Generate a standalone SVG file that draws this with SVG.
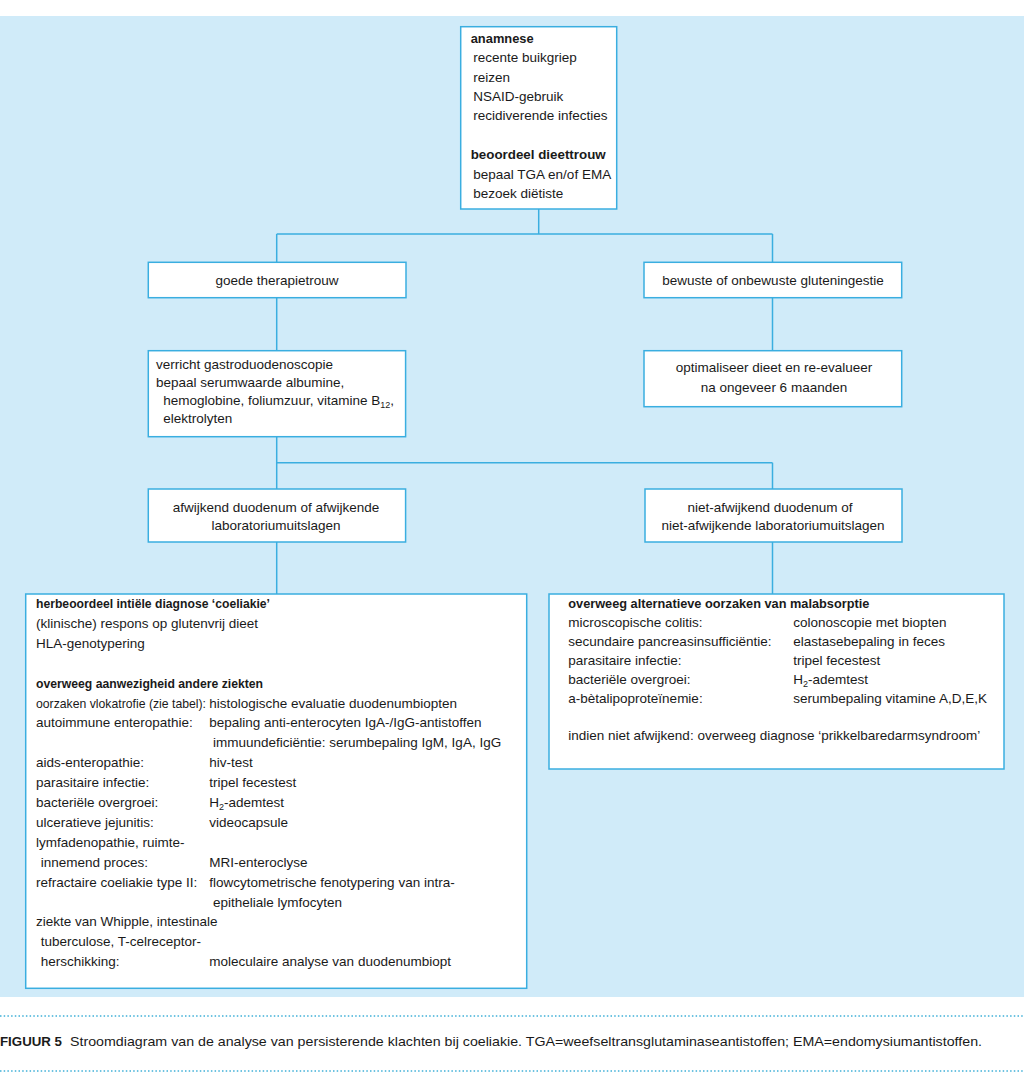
<svg xmlns="http://www.w3.org/2000/svg" width="1024" height="1077" viewBox="0 0 1024 1077">
<style>
.bg{fill:#d0ebf9}
.box{fill:#ffffff;stroke:#3aaee0;stroke-width:1.5}
.con{stroke:#3aaee0;stroke-width:1.5;fill:none}
text{font-family:"Liberation Sans",Arial,sans-serif;font-size:13.5px;fill:#1a1a1a}
.b{font-weight:bold}
.c{text-anchor:middle}
.dot{stroke:#3fb0d8;stroke-width:1.5;stroke-dasharray:1.5 2.2;fill:none}
.sub{font-size:9px}
</style>
<rect class="bg" x="0" y="16" width="1024" height="981"/>

<g id="connectors">
<path class="con" d="M538.7 209V234M276.7 234H772.5M276.7 234V262.3M772.5 234V262.3M276.7 297.7V350.7M772.5 297.7V350.7M276.7 436.7V462.7M276.7 462.7H772.5M276.7 462.7V489M772.5 462.7V489M276.7 542V594M772.5 542V594"/>
</g>

<g id="anamnese">
<rect class="box" x="460.7" y="26.7" width="156" height="182.3"/>
<text class="b" x="470.7" y="42.7" textLength="63" lengthAdjust="spacingAndGlyphs">anamnese</text>
<text x="473.3" y="62.2">recente buikgriep</text>
<text x="473.3" y="81.6">reizen</text>
<text x="473.3" y="101">NSAID-gebruik</text>
<text x="473.3" y="120.4">recidiverende infecties</text>
<text class="b" x="470.7" y="159.4" textLength="135" lengthAdjust="spacingAndGlyphs">beoordeel dieettrouw</text>
<text x="473.3" y="178.8">bepaal TGA en/of EMA</text>
<text x="473.3" y="198.2">bezoek diëtiste</text>
</g>

<g id="goede">
<rect class="box" x="148.3" y="262.3" width="257.7" height="35.4"/>
<text class="c" x="277" y="284.5">goede therapietrouw</text>
</g>

<g id="gluten">
<rect class="box" x="644" y="262.3" width="257.7" height="35.4"/>
<text class="c" x="773" y="284.5">bewuste of onbewuste gluteningestie</text>
</g>

<g id="gastro">
<rect class="box" x="148.3" y="350.7" width="257.3" height="86"/>
<text x="156" y="369.3">verricht gastroduodenoscopie</text>
<text x="156" y="387.3">bepaal serumwaarde albumine,</text>
<text x="163.3" y="405">hemoglobine, foliumzuur, vitamine B<tspan class="sub" dy="3">12</tspan><tspan dy="-3">,</tspan></text>
<text x="163.3" y="422.7">elektrolyten</text>
</g>

<g id="optimaliseer">
<rect class="box" x="644" y="350.7" width="257.7" height="56"/>
<text class="c" x="774" y="372">optimaliseer dieet en re-evalueer</text>
<text class="c" x="774" y="391.7">na ongeveer 6 maanden</text>
</g>

<g id="afwijkend">
<rect class="box" x="148.3" y="489" width="257.3" height="53"/>
<text class="c" x="276" y="511.7">afwijkend duodenum of afwijkende</text>
<text class="c" x="276" y="530">laboratoriumuitslagen</text>
</g>

<g id="nietafwijkend">
<rect class="box" x="645" y="489" width="257" height="53"/>
<text class="c" x="770" y="511.7">niet-afwijkend duodenum of</text>
<text class="c" x="773" y="530">niet-afwijkende laboratoriumuitslagen</text>
</g>

<g id="herbeoordeel">
<rect class="box" x="25.7" y="594" width="501" height="394.3"/>
<text class="b" x="36" y="608" textLength="234" lengthAdjust="spacingAndGlyphs">herbeoordeel intiële diagnose ‘coeliakie’</text>
<text x="36" y="627.9">(klinische) respons op glutenvrij dieet</text>
<text x="36" y="647.8">HLA-genotypering</text>
<text class="b" x="36" y="687.6" textLength="227" lengthAdjust="spacingAndGlyphs">overweeg aanwezigheid andere ziekten</text>
<text x="36" y="707.5" textLength="170" lengthAdjust="spacingAndGlyphs">oorzaken vlokatrofie (zie tabel):</text>
<text x="209.3" y="707.5">histologische evaluatie duodenumbiopten</text>
<text x="36" y="727.4">autoimmune enteropathie:</text>
<text x="209.3" y="727.4">bepaling anti-enterocyten IgA-/IgG-antistoffen</text>
<text x="213" y="747.3">immuundeficiëntie: serumbepaling IgM, IgA, IgG</text>
<text x="36" y="767.2">aids-enteropathie:</text>
<text x="209.3" y="767.2">hiv-test</text>
<text x="36" y="787.1">parasitaire infectie:</text>
<text x="209.3" y="787.1">tripel fecestest</text>
<text x="36" y="807">bacteriële overgroei:</text>
<text x="209.3" y="807">H<tspan class="sub" dy="3">2</tspan><tspan dy="-3">-ademtest</tspan></text>
<text x="36" y="826.9">ulceratieve jejunitis:</text>
<text x="209.3" y="826.9">videocapsule</text>
<text x="36" y="846.8">lymfadenopathie, ruimte-</text>
<text x="40.7" y="866.7">innemend proces:</text>
<text x="209.3" y="866.7">MRI-enteroclyse</text>
<text x="36" y="886.6">refractaire coeliakie type II:</text>
<text x="209.3" y="886.6">flowcytometrische fenotypering van intra-</text>
<text x="213" y="906.5">epitheliale lymfocyten</text>
<text x="36" y="926.4">ziekte van Whipple, intestinale</text>
<text x="40.7" y="946.3">tuberculose, T-celreceptor-</text>
<text x="40.7" y="966.2">herschikking:</text>
<text x="209.3" y="966.2">moleculaire analyse van duodenumbiopt</text>
</g>

<g id="alternatief">
<rect class="box" x="549" y="594" width="455" height="175"/>
<text class="b" x="568.3" y="608" textLength="301" lengthAdjust="spacingAndGlyphs">overweeg alternatieve oorzaken van malabsorptie</text>
<text x="568.3" y="626.9">microscopische colitis:</text>
<text x="793.3" y="626.9">colonoscopie met biopten</text>
<text x="568.3" y="645.8">secundaire pancreasinsufficiëntie:</text>
<text x="793.3" y="645.8">elastasebepaling in feces</text>
<text x="568.3" y="664.7">parasitaire infectie:</text>
<text x="793.3" y="664.7">tripel fecestest</text>
<text x="568.3" y="683.6">bacteriële overgroei:</text>
<text x="793.3" y="683.6">H<tspan class="sub" dy="3">2</tspan><tspan dy="-3">-ademtest</tspan></text>
<text x="568.3" y="702.5">a-bètalipoproteïnemie:</text>
<text x="793.3" y="702.5">serumbepaling vitamine A,D,E,K</text>
<text x="568.3" y="740.3">indien niet afwijkend: overweeg diagnose ‘prikkelbaredarmsyndroom’</text>
</g>

<g id="caption">
<line class="dot" x1="0" y1="1016" x2="1024" y2="1016"/>
<text class="b" x="0" y="1046" style="font-size:13.5px" textLength="62" lengthAdjust="spacingAndGlyphs">FIGUUR 5</text>
<text x="70" y="1046" style="font-size:13.5px" textLength="912" lengthAdjust="spacingAndGlyphs">Stroomdiagram van de analyse van persisterende klachten bij coeliakie.  TGA=weefseltransglutaminaseantistoffen; EMA=endomysiumantistoffen.</text>
<line class="dot" x1="0" y1="1071" x2="1024" y2="1071"/>
</g>
</svg>
